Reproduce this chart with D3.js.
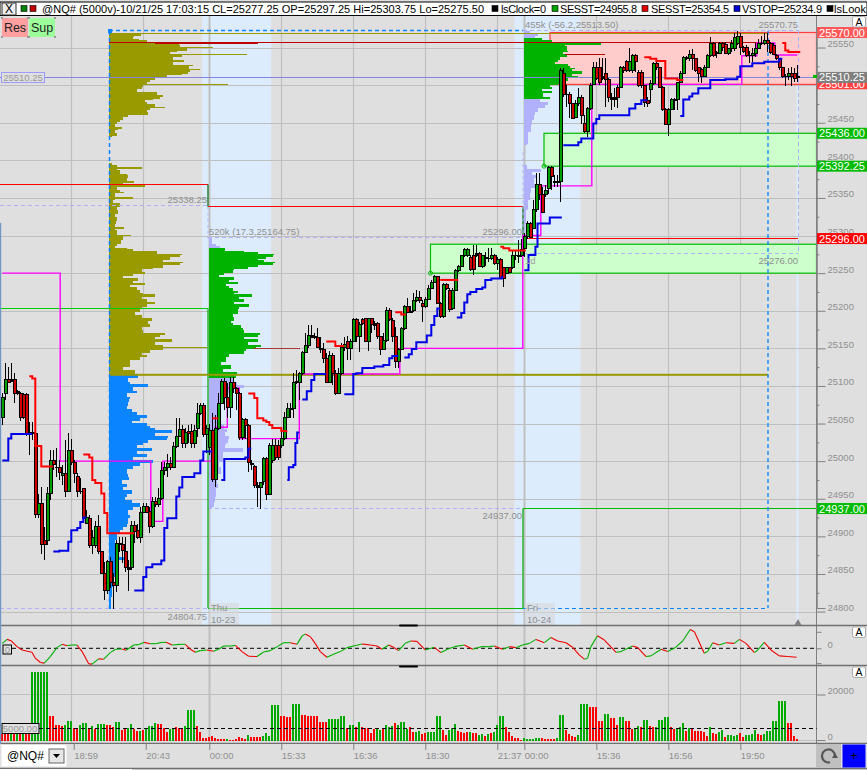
<!DOCTYPE html>
<html><head><meta charset="utf-8">
<script src="https://cdn.jsdelivr.net/npm/d3@7/dist/d3.min.js"></script>
<style>
html,body{margin:0;padding:0;background:#dfdfdf;overflow:hidden}
text{font-family:"Liberation Sans",Arial,sans-serif}
</style></head><body><svg id="c" width="867" height="770"></svg>
<script>
const opens=[25058,25090,25108,25108,25108,25092,25090,25088,25088,25038,25037,25037,24929,24944,24895,24895,24957,25001,24992,24992,24981,24984,24960,25014,24998,24980,24960,24963,24917,24924,24888,24888,24913,24880,24851,24828,24866,24838,24835,24891,24889,24880,24858,24858,24915,24908,24899,24932,24940,24933,24913,24947,24943,24951,24988,24991,24997,24992,25020,25033,25042,25024,25040,25040,25024,25044,25064,25074,25036,25018,25041,24976,25044,25077,25106,25084,25072,25105,25097,25090,25032,25056,25048,24997,24993,24967,24965,24973,25004,24956,25001,25021,25021,25021,25030,25058,25070,25070,25106,25104,25117,25145,25154,25167,25166,25165,25150,25148,25137,25104,25140,25117,25090,25117,25151,25159,25150,25159,25189,25166,25189,25190,25159,25190,25183,25183,25166,25149,25161,25201,25187,25166,25132,25149,25177,25205,25199,25201,25214,25217,25210,25205,25215,25230,25238,25245,25210,25193,25235,25227,25203,25227,25253,25259,25273,25274,25271,25274,25274,25276,25259,25271,25270,25270,25274,25263,25268,25257,25250,25257,25257,25274,25274,25274,25283,25299,25316,25310,25334,25368,25354,25354,25363,25390,25372,25371,25372,25516,25488,25487,25475,25457,25475,25484,25449,25439,25469,25501,25523,25523,25511,25515,25507,25483,25481,25497,25497,25524,25531,25520,25519,25539,25517,25517,25499,25480,25494,25502,25529,25523,25497,25467,25448,25468,25481,25481,25503,25516,25537,25535,25541,25535,25523,25521,25512,25524,25540,25556,25544,25542,25556,25554,25542,25549,25549,25556,25565,25550,25550,25540,25539,25542,25549,25556,25555,25560,25556,25553,25540,25535,25523,25512,25512,25516,25516,25511];
const highs=[25090,25130,25125,25131,25117,25094,25092,25090,25090,25052,25052,25041,24957,24965,24912,24965,25015,25015,25017,25001,24995,25028,25037,25030,25001,24984,24977,24964,24935,24928,24908,24921,24928,24881,24866,24868,24872,24851,24895,24899,24899,24899,24868,24921,24921,24917,24939,24945,24944,24939,24952,24952,24964,24999,24999,25010,25005,25025,25058,25058,25048,25044,25048,25050,25048,25077,25077,25077,25048,25049,25064,25061,25090,25109,25110,25104,25112,25112,25098,25092,25058,25058,25050,25001,24995,24972,24972,25005,25005,25024,25030,25030,25028,25041,25065,25078,25078,25117,25121,25118,25147,25170,25181,25181,25171,25177,25165,25157,25144,25147,25144,25121,25124,25157,25165,25167,25163,25190,25190,25185,25191,25191,25191,25191,25187,25185,25167,25170,25205,25203,25190,25178,25150,25178,25207,25217,25206,25223,25227,25226,25214,25218,25234,25241,25247,25246,25211,25237,25237,25230,25230,25255,25261,25274,25283,25283,25274,25287,25288,25278,25274,25278,25283,25283,25276,25271,25270,25258,25258,25258,25280,25280,25294,25296,25303,25320,25318,25347,25383,25383,25364,25367,25393,25392,25380,25380,25523,25523,25500,25491,25476,25480,25496,25487,25460,25471,25503,25531,25531,25536,25536,25536,25509,25489,25496,25500,25525,25525,25533,25549,25542,25542,25520,25520,25500,25484,25507,25531,25535,25524,25499,25469,25469,25483,25483,25503,25519,25539,25539,25547,25548,25536,25524,25523,25527,25542,25564,25557,25546,25557,25557,25557,25550,25560,25569,25572,25569,25552,25553,25546,25549,25556,25562,25566,25569,25569,25557,25556,25542,25536,25524,25515,25523,25524,25523,25527];
const lows=[25048,25081,25104,25105,25078,25088,25054,25056,25034,25008,25028,24925,24925,24877,24868,24888,24948,24988,24979,24975,24968,24952,24959,24995,24971,24952,24957,24921,24917,24885,24877,24884,24877,24851,24815,24824,24832,24804,24826,24879,24864,24852,24828,24855,24891,24897,24891,24931,24931,24904,24911,24939,24939,24948,24981,24979,24988,24991,25018,25032,25018,25017,25024,25018,25018,25032,25061,25032,25011,25008,24972,24965,25041,25076,25068,25058,25058,25090,25068,25028,25028,25030,24985,24988,24964,24939,24937,24968,24948,24955,24998,25001,25001,25018,25028,25058,25057,25058,25102,25081,25114,25144,25151,25165,25163,25150,25144,25130,25104,25104,25101,25088,25090,25114,25147,25134,25134,25158,25158,25145,25181,25158,25147,25170,25174,25163,25141,25148,25159,25187,25158,25124,25124,25148,25174,25197,25197,25198,25211,25210,25185,25203,25214,25229,25237,25210,25191,25191,25227,25199,25201,25226,25251,25258,25271,25271,25253,25247,25271,25258,25257,25259,25265,25267,25261,25254,25243,25231,25249,25250,25255,25267,25264,25271,25271,25296,25298,25310,25331,25347,25330,25351,25355,25360,25364,25364,25344,25484,25471,25456,25455,25456,25472,25448,25437,25431,25467,25500,25507,25500,25507,25471,25477,25467,25471,25469,25496,25516,25517,25517,25516,25517,25497,25496,25471,25471,25476,25500,25520,25496,25465,25447,25433,25467,25467,25467,25503,25516,25533,25532,25520,25517,25504,25503,25511,25523,25537,25537,25536,25542,25546,25541,25540,25544,25546,25553,25540,25543,25537,25529,25531,25537,25548,25553,25553,25544,25542,25540,25533,25520,25509,25499,25507,25499,25504,25504];
const closes=[25084,25109,25105,25106,25090,25090,25058,25058,25037,25037,25038,24929,24944,24889,24889,24957,25001,24995,24991,24985,24984,24960,25014,24998,24984,24959,24959,24924,24925,24888,24899,24913,24880,24851,24828,24866,24838,24835,24891,24889,24881,24858,24856,24915,24907,24899,24932,24940,24932,24913,24947,24943,24951,24988,24991,24997,24992,25020,25033,25042,25024,25038,25037,25024,25041,25064,25074,25036,25044,25041,24976,25044,25077,25106,25084,25072,25105,25097,25090,25032,25056,25048,24998,24995,24967,24965,24972,25004,24956,25021,25021,25005,25005,25030,25058,25070,25069,25105,25104,25117,25145,25154,25167,25165,25165,25151,25148,25137,25104,25141,25117,25090,25117,25151,25155,25150,25159,25189,25166,25182,25183,25159,25190,25182,25181,25166,25149,25161,25201,25189,25166,25132,25149,25177,25205,25198,25198,25214,25218,25214,25205,25215,25230,25238,25245,25210,25193,25235,25229,25202,25227,25253,25259,25273,25282,25282,25255,25255,25276,25259,25273,25270,25269,25274,25263,25268,25243,25243,25257,25251,25274,25273,25272,25281,25299,25316,25298,25334,25368,25355,25331,25360,25390,25378,25371,25372,25519,25488,25487,25475,25456,25475,25484,25460,25439,25469,25500,25523,25509,25503,25509,25508,25483,25481,25483,25483,25524,25519,25519,25531,25539,25532,25499,25499,25477,25476,25502,25529,25523,25497,25468,25448,25468,25481,25480,25503,25516,25537,25535,25541,25535,25520,25515,25512,25524,25540,25556,25539,25542,25556,25550,25542,25549,25556,25564,25565,25550,25545,25540,25539,25542,25549,25556,25555,25560,25556,25544,25541,25536,25523,25512,25511,25516,25512,25509,25510];

const volumes=[2630,2630,2630,2630,2630,2630,2630,2630,2630,2920,29780,29780,29780,29780,29780,29780,10510,10510,6570,6570,6130,6570,8320,8320,5110,5110,6570,7590,7590,5110,6130,4670,7010,7010,7010,6570,6570,5550,7880,7880,4380,4670,5110,7010,4960,4090,4090,4230,5110,6130,6130,7590,7010,7010,5110,3650,4670,4670,5550,5110,4670,6130,13140,13140,13140,6130,3650,730,730,1170,1750,730,440,440,440,290,100,100,290,1460,730,290,2190,1460,1170,1460,1460,1750,2920,1750,15330,15330,15330,10510,10510,9930,9930,15770,15770,15770,10950,10950,10510,10510,10510,10510,8030,8030,8030,9200,9200,9200,9200,10510,10510,5400,6570,6570,5840,8030,5550,5110,5110,3210,4670,4670,4380,5110,6570,5840,6130,7590,6570,7880,7880,4670,5840,3650,3650,4090,2630,3210,3500,3500,3650,10510,10510,4380,2190,4380,5110,7010,4090,3650,3210,3650,3650,3210,3210,2190,2630,1750,2630,2920,3500,6570,10510,10510,5550,3650,1750,730,730,100,730,580,580,580,1020,730,880,580,580,440,580,1020,10950,10950,4380,2630,1750,1460,2190,15770,15770,15770,14600,14600,14600,8470,8470,11390,11390,9780,9780,6570,9930,9930,8320,8320,4670,5110,6130,5550,8760,8760,6130,5550,5550,8760,8760,9930,9930,5840,4670,4670,5550,7300,4090,5110,5110,4090,3940,3940,3500,1750,5840,3210,2630,3650,4380,1460,2190,2190,1750,2190,3210,1460,2190,2190,2630,4380,2630,2040,2490,3940,3940,8470,8470,17230,17230,17230,7590,7590,1900,290];
const volumeColorRuns=[[0,"r"],[3,"g"],[4,"r"],[5,"g"],[6,"r"],[7,"g"],[8,"r"],[10,"g"],[16,"r"],[21,"g"],[24,"r"],[26,"g"],[29,"r"],[30,"g"],[31,"r"],[32,"g"],[35,"r"],[38,"g"],[40,"r"],[42,"g"],[44,"r"],[46,"g"],[47,"r"],[48,"g"],[52,"r"],[56,"g"],[58,"r"],[61,"g"],[65,"r"],[75,"g"],[76,"r"],[82,"g"],[83,"r"],[87,"g"],[93,"r"],[97,"g"],[100,"r"],[109,"g"],[115,"r"],[116,"g"],[118,"r"],[119,"g"],[120,"r"],[125,"g"],[127,"r"],[128,"g"],[131,"r"],[132,"g"],[136,"r"],[138,"g"],[140,"r"],[142,"g"],[147,"r"],[149,"g"],[152,"r"],[156,"g"],[157,"r"],[159,"g"],[161,"r"],[162,"g"],[163,"r"],[164,"g"],[168,"r"],[174,"g"],[180,"r"],[185,"g"],[188,"r"],[192,"g"],[196,"r"],[201,"g"],[203,"r"],[206,"g"],[208,"r"],[211,"g"],[213,"r"],[214,"g"],[216,"r"],[218,"g"],[223,"r"],[225,"g"],[228,"r"],[229,"g"],[230,"r"],[236,"g"],[237,"r"],[239,"g"],[241,"r"],[242,"g"],[246,"r"],[248,"g"],[252,"r"],[254,"g"],[262,"r"]];

const oscBars=[0,1.6,2.9,4.9,6.6,9.9,11,12.7,14,16,18.2,19.9,21.6,23.2,24.9,26.6,28.8,29.9,32.1,33.8,36,37.7,39.9,41.3,43.8,45.4,47.3,49.3,51,53.2,54.6,56.6,59.3,61,62.7,64.3,66,68.2,70.4,72.1,73.8,76,77.7,79.9,82.1,84.9,87.1,89.3,91.6,93.8,96,98.2,99.9,101,102.7,104.3,106,108.2,110.4,112.7,114.9,117.1,119.9,121,122.7,124.9,126.6,128.8,130.4,132.1,134.3,136.2,138.2,141,144,146.2,148.4,150.7,154,156.8,159.6,162.3,164,166.8,169,171.2,173.4,175.7,177.9,180.7,182.9,185.1,187.9,190.1,192.3,194,195.1,196.2,198.4,200.7,204.6,206.2,210.1,211.8,214.6,216.2,219.6,221.8,224,226.8,229.3,230.7,234,235.1,236.8,239,241.2,244,245.7,247.9,250.7,251.8,254,256.2,259,261.8,264.8];
const oscValues=[15,27,23,5,-5,-12,-30,-43,-45,-25,2,12,8,10,10,-10,-47,-48,-32,-33,-13,-3,-2,-6,10,11,18,14,14,18,18,10,12,12,-3,-12,-7,-5,-9,-3,7,7,9,-10,-24,-25,-11,-7,5,17,17,12,37,43,35,15,-10,-27,-18,-10,2,7,13,12,10,7,-3,10,3,-7,15,22,21,-5,3,-13,-3,5,10,-3,5,5,7,-3,5,2,10,15,27,17,33,22,17,3,-20,-33,-30,5,38,25,-12,-10,7,2,-25,-23,-3,-10,0,22,57,50,-15,-10,17,10,17,15,27,15,-13,-5,18,-5,-23,-25,-27];

const vstopSegments=[
[[0,25001],[2,25030],[3,25036],[10,25036]],
[[17,24880],[19,24881],[22,24893],[23,24908],[25,24911],[26,24919],[27,24925],[28,24925]],
[[44,24828],[47,24846],[48,24859],[50,24863],[53,24868],[54,24911],[55,24924],[58,24953],[59,24965],[60,24979],[64,24984],[66,25001],[67,25013],[70,25013]],
[[73,24975],[74,25003],[81,25005],[82,25017],[83,25017]],
[[95,24975],[95.5,24992],[97,24995],[97.7,25024],[98.3,25038],[99,25038]],
[[100,25082],[101.5,25093],[103,25108],[104,25116],[108,25116]],
[[114,25089],[117,25116],[118,25117],[120,25124],[124,25126],[127,25128],[129,25137],[130,25140],[132,25140]],
[[134,25138],[135.5,25142],[136.5,25149],[138,25158],[141.5,25167],[143,25181],[144,25193],[145,25203],[146,25203]],
[[151.5,25191],[153,25197],[154,25211],[155,25222],[156,25225],[158,25229],[160,25231],[161,25241],[163,25243],[166.5,25245],[167,25245]],
[[174,25254],[175.4,25274],[177.7,25285],[178.4,25316],[182.5,25324],[186.5,25324]],
[[187,25420],[192,25424],[193,25429],[197,25449],[198,25455],[199,25460],[209,25469],[211,25475],[213,25480],[215,25480]],
[[226,25459],[227,25481],[229,25485],[230,25489],[232,25496],[236,25507],[241,25508],[245,25511],[246,25525],[250,25529],[254,25531],[259,25535],[260,25535]]];
const sesstSegments=[
[[9,25113],[10,25110],[11,25020],[13,24993],[17,24993]],
[[27,25009],[29,25005],[30,24975],[31,24971],[33,24957],[34,24931],[35,24904],[44,24904]],
[[70,25057],[72,25057]],
[[82,25090],[84,25084],[85,25057],[87,25054],[88,25052],[89,25048],[90,25044],[93,25040],[95,25040]],
[[108,25159],[111,25153],[114,25153]],
[[131,25198],[133,25195],[134.5,25195]],
[[146,25241],[152,25241]],
[[166,25285],[167,25283],[169,25280],[174.5,25280]],
[[214,25537],[216,25535],[218,25532],[221,25509],[225,25507],[227,25507]],
[[260,25556],[261,25546],[262,25544],[266,25544]]];
const pocSteps=[[0,25250],[19.3,25000],[49.5,24920],[53.5,25000],[71,25045],[75,25097],[79,25030],[99,25116],[132.5,25150],[173.5,25300],[179.5,25366],[196.5,25501],[246.5,25539],[251.5,25556],[257.5,25540],[265,25540]];

// volume profiles: [price at bin top, width]
const prof1Upper=[[25570,32],[25566,25],[25564,24],[25562,30],[25560,38],[25558,48],[25555,70],[25553,71],[25551,104],[25549,78],[25546,68],[25544,61],[25541,138],[25540,73],[25538,64],[25534,75],[25531,64],[25527,84],[25525,80],[25522,91],[25520,81],[25518,79],[25515,73],[25513,58],[25511,53],[25509,46],[25507,41],[25504,38],[25502,119],[25500,34],[25498,33],[25495,28],[25491,48],[25487,54],[25484,51],[25482,44],[25480,36],[25478,38],[25475,46],[25471,56],[25469,41],[25467,38],[25464,39],[25460,19],[25457,14],[25454,11],[25451,8],[25448,6],[25445,13],[25442,9],[25440,6],[25437,8],[25433,3],[25431,0],
[25396,3],[25394,8],[25390.5,33],[25389,8],[25387,11],[25382,18],[25380,19],[25376,18],[25373,25],[25370,14],[25367,36],[25365,8],[25361,11],[25358,15],[25356,6],[25351,24],[25349,6],[25347,4],[25343,11],[25338,8],[25334,9],[25329,6],[25325,8],[25320,7],[25316,6],[25312,15],[25309,6],[25307,8],[25301,22],[25299,14],[25297,14],[25294,12],[25289,8],[25286,6],[25284,18],[25282,24],[25279,48],[25276,73],[25274,71],[25271,61],[25268,54],[25265,74],[25263,71],[25261,54],[25257,44],[25255,33],[25252,36],[25249,24],[25246,14],[25243,29],[25240,24],[25237,36],[25234,21],[25231,28],[25227,31],[25224,34],[25222,46],[25218,33],[25215,38],[25212,46],[25209,38],[25205,33],[25202,31],[25198,26],[25194,33],[25190,43],[25187,39],[25183,41],[25179,33],[25175,34],[25171,56],[25168,51],[25165,46],[25162,63],[25159,46],[25155,54],[25152,98],[25150,54],[25148,41],[25144,33],[25141,38],[25138,31],[25134,21],[25130,21],[25125,14],[25121,26],[25116,31]];
const prof1Lower=[[25114,29],[25110,19],[25105,21],[25102,39],[25099,24],[25093,28],[25090,18],[25085,21],[25082,20],[25079,19],[25074,18],[25070,23],[25065,28],[25061,38],[25058,31],[25054,23],[25051,38],[25047,41],[25044,46],[25041,63],[25038,46],[25034,59],[25031,58],[25028,39],[25024,34],[25021,28],[25017,43],[25014,28],[25010,38],[25006,24],[25001,44],[24997,31],[24993,24],[24989,18],[24983,19],[24979,20],[24975,13],[24970,18],[24966,14],[24961,23],[24957,18],[24952,16],[24948,23],[24944,31],[24939,24],[24935,19],[24929,21],[24924,19],[24917,18],[24913,14],[24908,11],[24904,8],[24895,6],[24886,6],[24873,19],[24868,8],[24859,6],[24846,4],[24833,3],[24819,2],[24804,0]];
const prof2Top=[[25297,3],[25294,3],[25289,7],[25286,11],[25284,0]];
const prof2Green=[[25284,16],[25280,35],[25278,49],[25276,65],[25274,64],[25272,57],[25269,49],[25267,55],[25265,66],[25263,64],[25261,49],[25258,39],[25256,25],[25254,24],[25250,15],[25247,10],[25245,25],[25241,20],[25238,29],[25236,17],[25233,20],[25230,24],[25226,29],[25224,25],[25222,43],[25218,30],[25215,35],[25212,25],[25209,40],[25205,30],[25202,29],[25196,24],[25192,25],[25187,22],[25184,24],[25181,32],[25177,34],[25174,35],[25171,51],[25168,49],[25165,35],[25162,49],[25159,39],[25155,52],[25152,47],[25149,37],[25146,35],[25142,20],[25139,17],[25135,17],[25132,12],[25128,22],[25123,14],[25119,28],[25114,27],[25110,0]];
const prof2Lower=[[25110,25],[25105,28],[25101,35],[25097,24],[25090,19],[25083,12],[25077,9],[25070,10],[25063,10],[25057,12],[25050,15],[25043,18],[25039,16],[25034,20],[25030,19],[25024,17],[25021,16],[25017,34],[25012,14],[25006,14],[24999,10],[24992,12],[24983,9],[24977,8],[24970,9],[24964,7],[24959,7],[24952,6],[24946,5],[24939,3],[24937,0]];
const prof3Top=[[25572,6],[25569,14],[25566,11],[25563,0]];
const prof3Green=[[25563,18],[25560,28],[25557,77],[25554,41],[25552,43],[25549,43],[25546,44],[25544,39],[25541,43],[25538,36],[25534,34],[25531,31],[25528,44],[25526,46],[25523,51],[25521,48],[25519,58],[25515,48],[25512,54],[25509,44],[25506,39],[25502,34],[25500,26],[25498,28],[25495,18],[25492,28],[25489,19],[25484,26],[25482,0]];
const prof3Lower=[[25482,16],[25478,24],[25473,21],[25469,14],[25464,11],[25460,10],[25453,8],[25447,7],[25438,4],[25427,4],[25422,3],[25420,0],[25394,3],[25389,17],[25385,8],[25380,12],[25376,10],[25369,13],[25363,7],[25356,6],[25347,4],[25334,2],[25316,1],[25303,1],[25298,0]];

const priceMajor=d3.range(24800,25600,50);
const priceMinor=d3.range(24800,25575,25).filter(v=>v%50!==0);
const gridBars=[23,47,69,93,117,141,165,174,198,222,246];
const timeBars=[23.8,47.8,69,93,117,141,165,174,198,222,246];
const timeLabels=["18:59","20:43","00:00","15:33","16:36","18:30","21:37","00:00","15:36","16:56","19:50"];
const sessionBands=[[66.6,89.6],[170.7,192.7],[264.7,265.4]];
const priceTags=[[25570,"25570.00","#ff5858"],[25501.8,"25501.00","#ff4040"],[25510.25,"25510.25","#808080"],[25436,"25436.00","#00bb00"],[25392.25,"25392.25","#00bb00"],[25296,"25296.00","#ff0000"],[24937,"24937.00","#00bb00"]];

const W=867,H=770,RIGHT=816.5;
const svg=d3.select("#c");
const x=d3.scaleLinear().domain([0,265]).range([2.3,797.3]);
const y=d3.scaleLinear().domain([24804.75,25570]).range([608,32.5]);
const oscY=d3.scaleLinear().domain([0,10]).range([648.3,645]);
const volY=d3.scaleLinear().domain([0,20000]).range([740,694.5]);
const profW=d3.scaleLinear().domain([0,100]).range([0,100]);
const g=svg.append("g");
const C={grid:"#bfbfbf",bg:"#dfdfdf",txt:"#8f8f8f",band:"#dcecfd",olive:"#999900",green:"#00b300",blue:"#0a84ff",lav:"#b0b0fb",zoneG:"#ccffcc",zoneR:"#ffcccc",lineG:"#00bb00",lineR:"#ff3b3b"};

g.append("rect").attr("width",W).attr("height",H).attr("fill",C.bg);

// session bands
g.selectAll(".band").data(sessionBands).join("rect")
 .attr("x",d=>x(d[0])).attr("width",d=>x(d[1])-x(d[0])).attr("y",16).attr("height",609).attr("fill",C.band);

// grid
const hl=(p,a,b,col,w,dash)=>g.append("line").attr("x1",a).attr("x2",b).attr("y1",Math.floor(y(p))+.5).attr("y2",Math.floor(y(p))+.5)
  .attr("stroke",col).attr("stroke-width",w||1).attr("stroke-dasharray",dash||null).attr("shape-rendering","crispEdges");
const vl=(xp,a,b,col,w,dash)=>g.append("line").attr("x1",xp).attr("x2",xp).attr("y1",a).attr("y2",b)
  .attr("stroke",col).attr("stroke-width",w||1).attr("stroke-dasharray",dash||null);
priceMajor.forEach(p=>{ if(y(p)>17) g.append("line").attr("x1",0).attr("x2",RIGHT).attr("y1",Math.round(y(p))+.5).attr("y2",Math.round(y(p))+.5).attr("stroke",C.grid).attr("stroke-width",1.2);});
gridBars.forEach((b,i)=>{
  const t=(i==2||i==7);
  g.append("line").attr("x1",Math.round(x(b))+.5).attr("x2",Math.round(x(b))+.5).attr("y1",16).attr("y2",743).attr("stroke",C.grid).attr("stroke-width",t?2:1.2);
});
g.append("line").attr("x1",0).attr("x2",RIGHT).attr("y1",694.5).attr("y2",694.5).attr("stroke",C.grid).attr("stroke-width",1.2);
g.append("line").attr("x1",0).attr("x2",RIGHT).attr("y1",740.5).attr("y2",740.5).attr("stroke",C.grid).attr("stroke-width",1);

// zones
const zone=(a,hiP,loP,fill,st)=>g.append("rect").attr("x",a).attr("width",RIGHT-a).attr("y",y(hiP)).attr("height",y(loP)-y(hiP)).attr("fill",fill).attr("stroke",st).attr("stroke-width",1.2);
zone(550,25570,25501,C.zoneR,C.lineR);
zone(544,25436,25392.25,C.zoneG,C.lineG);
zone(430.5,25288.5,25250,C.zoneG,C.lineG);

// profiles
function drawProfile(data,base,col){
  g.append("g").selectAll("rect").data(data.slice(0,-1)).join("rect")
   .attr("x",base).attr("width",d=>profW(d[1]))
   .attr("y",d=>y(d[0]))
   .attr("height",(d,i)=>Math.max(1,y(data[i+1][0])-y(d[0])))
   .attr("fill",col).attr("shape-rendering","crispEdges");
}
drawProfile(prof1Upper.concat([[25114,0]]),109,C.olive);
drawProfile(prof1Lower,109,C.blue);
drawProfile(prof2Top,208.5,C.lav);
drawProfile(prof2Green,208.5,C.green);
drawProfile(prof2Lower,208.5,C.lav);
drawProfile(prof3Top,523.5,C.lav);
drawProfile(prof3Green,523.5,C.green);
drawProfile(prof3Lower,523.5,C.lav);

// level lines
hl(25340,0,208,C.lav,1,"4 3");
hl(25298,208,523,C.lav,1,"4 3");
hl(24937,208,523,C.lav,1,"4 3");
hl(24804.75,0,208,C.lav,1,"4 3");
hl(25276,523,798,C.lav,1,"4 3");
hl(25368,0,207.5,"#ff0000",1);
vl(208,y(25368),y(25338.25),"#006600",1.2);
hl(25338.25,208,523,"#ff0000",1);
vl(523,y(25338.25),y(25296),"#006600",1.2);
hl(25296,523,798,"#ff0000",1);
hl(25203.4,0,208,"#00cc00",1);
vl(208,y(25203.4),608,"#00aa00",1.2);
hl(24804.75,208,523,"#00bb00",1);
vl(523,608,y(24937),"#00aa00",1.2);
hl(24937,523,RIGHT,"#00bb00",1);
vl(208,y(25338.25),y(25296),C.lav,1,"3 3");
vl(523,y(25392.25)-14,y(25296),C.lav,1,"3 3");
vl(798.5,30,y(25276),C.lav,1,"4 3");
g.append("line").attr("x1",523).attr("x2",798).attr("y1",30.5).attr("y2",30.5).attr("stroke",C.lav).attr("stroke-dasharray","4 3");
g.append("rect").attr("x",109).attr("width",659).attr("y",y(25115.5)-.5).attr("height",2).attr("fill",C.olive);
hl(25569,109,768,C.olive,1);
hl(25557,109,768,"#bb0000",1);
hl(25557,155,258,"#bb0000",2);
hl(25541,565,605,"#bb0000",1);
hl(25150,253,300,"#aa3333",1);
hl(25510.25,0,RIGHT,"#8585e0",1);
// blue dashed selection
g.append("line").attr("x1",109).attr("x2",523).attr("y1",30.5).attr("y2",30.5).attr("stroke",C.blue).attr("stroke-width",1.3).attr("stroke-dasharray","4 3");
vl(109.5,31,608,C.blue,1.5,"4 3");
vl(768,31,608,C.blue,1.3,"4 3");
g.append("line").attr("x1",523).attr("x2",768).attr("y1",608.5).attr("y2",608.5).attr("stroke",C.blue).attr("stroke-width",1.2).attr("stroke-dasharray","4 3");
g.append("rect").attr("x",108).attr("y",29).attr("width",4).attr("height",4).attr("fill",C.blue);
g.append("circle").attr("cx",544).attr("cy",y(25392.25)).attr("r",2).attr("fill","none").attr("stroke","#00bb00");
g.append("circle").attr("cx",430.5).attr("cy",y(25250)).attr("r",2).attr("fill","none").attr("stroke","#00bb00");

// magenta step
const stepLine=d3.line().x(d=>x(d[0])).y(d=>y(d[1])).curve(d3.curveStepAfter);
g.append("path").attr("d",stepLine(pocSteps)).attr("fill","none").attr("stroke","#ff00ff").attr("stroke-width",1.4);

// candles
const idx=d3.range(opens.length);
const cg=g.append("g").attr("shape-rendering","crispEdges");
cg.selectAll(".w").data(idx).join("line").attr("x1",i=>Math.round(x(i))+.5).attr("x2",i=>Math.round(x(i))+.5)
  .attr("y1",i=>y(highs[i])).attr("y2",i=>y(lows[i])).attr("stroke","#000").attr("stroke-width",1);
idx.forEach(i=>{
  const top=y(Math.max(opens[i],closes[i])),bot=y(Math.min(opens[i],closes[i]));
  const cx=Math.round(x(i));
  const up=closes[i]>=opens[i];
  cg.append("rect").attr("x",cx-1).attr("width",4).attr("y",top-.5).attr("height",Math.max(bot-top+1,1.5)).attr("fill","#000");
  if(bot-top>2) cg.append("rect").attr("x",cx).attr("width",2).attr("y",top+.5).attr("height",bot-top-1).attr("fill",up?"#00a000":"#d00000");
});

// vstop / sesst
const stopLine=d3.line().x(d=>x(d[0])).y(d=>y(d[1])).curve(d3.curveStepAfter);
g.append("g").selectAll("path").data(vstopSegments).join("path").attr("d",stopLine).attr("fill","none").attr("stroke","#0000e6").attr("stroke-width",2);
g.append("g").selectAll("path").data(sesstSegments).join("path").attr("d",stopLine).attr("fill","none").attr("stroke","#ff0000").attr("stroke-width",2);

// text annotations
const t=(s,xp,yp,o={})=>g.append("text").text(s).attr("x",xp).attr("y",yp).attr("font-size",o.size||9.5).attr("fill",o.fill||C.txt)
   .attr("text-anchor",o.anchor||"start").attr("font-weight",o.w||null);
t("25338.25",207,203,{anchor:"end"});
t("520k (17.3,25164.75)",209,235);
t("25296.00",522,235,{anchor:"end"});
t("455k (-56.2,25513.50)",525,28);
t("25570.75",798,28,{anchor:"end"});
t("25276.00",798,264,{anchor:"end"});
t("24937.00",522,519,{anchor:"end"});
t("24804.75",207,620,{anchor:"end"});
t("1d",525,264,{fill:"#a0a0a0"});
[["Thu","10-23",209],["Fri","10-24",525]].forEach(([a,b,xp])=>{
  g.append("rect").attr("x",xp).attr("y",603).attr("width",30).attr("height",22).attr("fill","#d8d8d8").attr("opacity",.6);
  t(a,xp+2,611); t(b,xp+2,623);
});

// price axis
const axMinor=d3.axisRight(y).tickValues(priceMinor).tickSize(3).tickFormat("");
const axMajor=d3.axisRight(y).tickValues(priceMajor.filter(v=>v!==25500)).tickSize(9).tickFormat(d3.format("d"));
[axMinor,axMajor].forEach(a=>{
  const ga=g.append("g").attr("transform",`translate(${RIGHT},0)`).call(a);
  ga.select(".domain").attr("stroke","#808080");
  ga.selectAll("line").attr("stroke","#808080");
  ga.selectAll("text").attr("fill",C.txt).attr("font-size",9.5).attr("dy","-1px").attr("x",11);
});
g.append("line").attr("x1",RIGHT).attr("x2",RIGHT).attr("y1",16).attr("y2",743).attr("stroke","#808080");
g.append("rect").attr("x",RIGHT+0.5).attr("y",16).attr("width",50).attr("height",8).attr("fill",C.bg);

// right tags
priceTags.forEach(d=>{
  const cy=y(d[0]);
  g.append("rect").attr("x",817).attr("width",50).attr("y",cy-5.5).attr("height",11).attr("fill",d[2]);
  g.append("text").text(d[1]).attr("x",842).attr("y",cy+4).attr("text-anchor","middle").attr("font-size",11).attr("fill","#fff");
});
g.append("rect").attr("x",813).attr("y",75).attr("width",4).attr("height",3).attr("fill","#00bb00");

// left label
g.append("rect").attr("x",1.5).attr("y",72.5).attr("width",43).attr("height",10).attr("fill",C.bg).attr("stroke","#9c9cff");
t("25510.25",23,81,{anchor:"middle",fill:"#9a9a9a"});

// top bar
g.append("rect").attr("x",0).attr("y",2).attr("width",W).attr("height",13.5).attr("fill","#fff").attr("stroke","#000");
g.append("rect").attr("x",2).attr("y",3).attr("width",14).attr("height",12).attr("fill","#eee").attr("stroke","#333");
g.append("text").text("X").attr("x",9).attr("y",13).attr("text-anchor","middle").attr("font-size",12).attr("fill","#000");
[[21,"#008000"],[30,"#c00000"],[492,"#000"],[552,"#00a000"],[642,"#e00000"],[734,"#0000d0"],[827,"#000"]].forEach(([a,c])=>
  g.append("rect").attr("x",a).attr("y",5.5).attr("width",6).attr("height",6).attr("fill",c).attr("stroke","#000").attr("stroke-width",.6));
const T=(s,xp,len)=>g.append("text").text(s).attr("x",xp).attr("y",13).attr("font-size",11).attr("fill","#000").attr("textLength",len).attr("lengthAdjust","spacing");
T("@NQ# (5000v)-10/21/25 17:03:15 CL=25277.25 OP=25297.25 Hi=25303.75 Lo=25275.50",42,442);
T("lsClock=0",501,45);T("SESST=24955.8",560,77);T("SESST=25354.5",651,78);T("VSTOP=25234.9",742,80);T("lsLook",834,32);

// Res/Sup
[["Res",2,26,"#ff9f9f"],["Sup",29,26,"#9cff9c"]].forEach(([s,a,w,c])=>{
  g.append("rect").attr("x",a).attr("y",18).attr("width",w).attr("height",19).attr("fill",c);
  [[a,18],[a+w,18],[a,37],[a+w,37]].forEach(p=>g.append("rect").attr("x",p[0]-1).attr("y",p[1]-1).attr("width",2).attr("height",2).attr("fill","#999"));
  g.append("text").text(s).attr("x",a+w/2).attr("y",32).attr("text-anchor","middle").attr("font-size",12.5).attr("fill","#222");
});

// panel bg borders
[625.5,665.5,743.5].forEach(v=>g.append("line").attr("x1",0).attr("x2",W).attr("y1",v).attr("y2",v).attr("stroke","#707070").attr("stroke-width",1.6));
[[399,625],[399,666]].forEach(p=>g.append("rect").attr("x",p[0]).attr("y",p[1]-.5).attr("width",19).attr("height",2).attr("fill","#000").attr("rx",1));
g.append("path").attr("d","M794.5,625 L798,619 L801.5,625 Z").attr("fill","#808080");

// oscillator
g.append("line").attr("x1",12).attr("x2",RIGHT).attr("y1",oscY(0)).attr("y2",oscY(0)).attr("stroke","#000").attr("stroke-dasharray","4 3");
const oscLine=d3.line().x(d=>x(d[0])).y(d=>oscY(d[1]));
for(let i=0;i<oscBars.length-1;i++){
  const a=[oscBars[i],oscValues[i]],b=[oscBars[i+1],oscValues[i+1]];
  g.append("path").attr("d",oscLine([a,b])).attr("fill","none").attr("stroke",b[1]>=a[1]?"#00b000":"#f00000").attr("stroke-width",1.1);
}
const oscAx=g.append("g").attr("transform",`translate(${RIGHT},0)`).call(d3.axisRight(oscY).tickValues([-45,0,50]).tickSize(5).tickFormat(d=>d===0?"0":""));
oscAx.select(".domain").remove();oscAx.selectAll("line").attr("stroke","#808080");
oscAx.selectAll("text").attr("fill",C.txt).attr("font-size",9.5).attr("dy","-1px").attr("x",11);
g.append("rect").attr("x",3).attr("y",645).attr("width",8.5).attr("height",9).attr("fill",C.bg).attr("stroke","#000");
t("0",7.5,653,{anchor:"middle",fill:"#999"});

// volume
const sideAt=i=>{let s="r";for(const r of volumeColorRuns){if(r[0]<=i)s=r[1];else break;}return s;};
g.append("g").attr("shape-rendering","crispEdges").selectAll("rect").data(volumes).join("rect")
 .attr("x",(d,i)=>Math.round(x(i))-1).attr("width",2).attr("y",d=>volY(d)).attr("height",d=>741-volY(d))
 .attr("fill",(d,i)=>sideAt(i)==="g"?"#00aa00":"#ff0000");
g.append("line").attr("x1",39).attr("x2",RIGHT).attr("y1",728.5).attr("y2",728.5).attr("stroke","#000").attr("stroke-dasharray","4 3");
const volAx=g.append("g").attr("transform",`translate(${RIGHT},0)`).call(d3.axisRight(volY).tickValues([0,20000]).tickSize(9).tickFormat(d3.format("d")));
volAx.select(".domain").remove();volAx.selectAll("line").attr("stroke","#808080");
volAx.selectAll("text").attr("fill",C.txt).attr("font-size",9.5).attr("dy","-1px").attr("x",11);
g.append("rect").attr("x",2).attr("y",723.5).attr("width",37).attr("height",10).attr("fill",C.bg).attr("stroke","#000");
t("5000.00",20,732,{anchor:"middle",fill:"#999"});

// A buttons
[[16.5],[627],[667]].forEach(([a])=>{
  g.append("rect").attr("x",852.5).attr("y",a).attr("width",13).attr("height",10.5).attr("rx",2).attr("fill","#fff").attr("stroke","#aaa");
  g.append("text").text("A").attr("x",859).attr("y",a+9.2).attr("text-anchor","middle").attr("font-size",10.5).attr("fill","#000");
});

// left strip
g.append("rect").attr("x",0).attr("y",223).attr("width",1.2).attr("height",545).attr("fill","#6e97c6");

// time axis
g.append("rect").attr("x",0).attr("y",744).attr("width",W).attr("height",24).attr("fill",C.bg);
const timeAx=d3.axisBottom(x).tickValues(timeBars).tickSize(6).tickFormat((d,i)=>timeLabels[i]);
const ta=g.append("g").attr("transform","translate(0,744)").call(timeAx);
ta.select(".domain").remove();ta.selectAll("line").attr("stroke","#808080");
ta.selectAll("text").attr("fill",C.txt).attr("font-size",9.5).attr("text-anchor","start").attr("y",13).attr("dy",".2em");
g.append("line").attr("x1",0).attr("x2",W).attr("y1",768.5).attr("y2",768.5).attr("stroke","#707070").attr("stroke-width",1.5);
g.append("rect").attr("x",0).attr("y",769).attr("width",132).attr("height",1).attr("fill","#fff");

// dropdown
g.append("rect").attr("x",1.5).attr("y",745).attr("width",65).attr("height",21.5).attr("fill","#fff");
g.append("text").text("@NQ#").attr("x",7).attr("y",760).attr("font-size",12).attr("fill","#000");
g.append("rect").attr("x",49).attr("y",749).attr("width",15).attr("height",14).attr("fill","#e6e6e6").attr("stroke","#666");
g.append("path").attr("d","M53,754 L60,754 L56.5,758 Z").attr("fill","#000");

// buttons
g.append("rect").attr("x",816).attr("y",744).attr("width",25).attr("height",24).attr("fill","#c0c0c0");
g.append("path").attr("d","M835,756 A6.5,6.5 0 1 0 830,762.3").attr("fill","none").attr("stroke","#555").attr("stroke-width",2.2);
g.append("path").attr("d","M832,758 L838,758 L835,753 Z").attr("fill","#555");
g.append("rect").attr("x",842.5).attr("y",744.5).attr("width",23).attr("height",23).attr("fill","#0000ff");
g.append("text").text("+").attr("x",854).attr("y",760).attr("text-anchor","middle").attr("font-size",13).attr("fill","#000");
</script></body></html>
